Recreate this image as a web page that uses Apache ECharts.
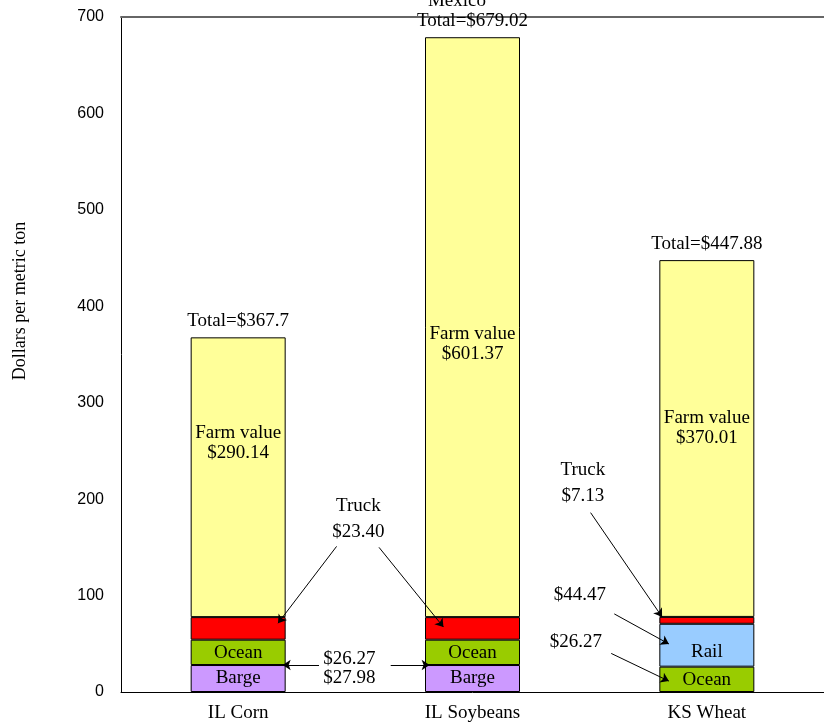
<!DOCTYPE html>
<html>
<head>
<meta charset="utf-8">
<script src="https://cdn.jsdelivr.net/npm/echarts@6/dist/echarts.min.js"></script>
<style>
  html, body { margin: 0; padding: 0; background: #fff; }
  #main { width: 824px; height: 723px; }
</style>
</head>
<body>
<div id="main"></div>
<script>
// 数据
const categories = ['IL Corn', 'IL Soybeans', 'KS Wheat'];
const barge = [27.98, 27.98, null];
const ocean = [26.27, 26.27, 26.27];
const rail = [null, null, 44.47];
const truck = [23.40, 23.40, 7.13];
const farmValue = [290.14, 601.37, 370.01];
const totalText = ['Total=$367.7', 'Total=$679.02', 'Total=$447.88'];

// 注释文字 (x: category units, y: dollars)
const notes = [
  { text: 'Truck', x: 0.513, y: 193 },
  { text: '$23.40', x: 0.513, y: 166 },
  { text: '$26.27', x: 0.475, y: 34 },
  { text: '$27.98', x: 0.475, y: 15 },
  { text: 'Truck', x: 1.471, y: 230 },
  { text: '$7.13', x: 1.471, y: 203 },
  { text: '$44.47', x: 1.458, y: 101 },
  { text: '$26.27', x: 1.441, y: 52 }
];
// 箭头: 指向某段 (seg = index in stack)
const arrows = [
  { cat: 0, seg: 3, frac: 0.73, dx: 0.17, fromX: 0.42, fromY: 151 },
  { cat: 1, seg: 3, frac: 0.56, dx: -0.124, fromX: 0.601, fromY: 150 },
  { cat: 0, seg: 0, frac: 1, dx: 0.19, fromX: 0.345, fromY: null },
  { cat: 1, seg: 0, frac: 1, dx: -0.183, fromX: 0.651, fromY: null },
  { cat: 2, seg: 3, frac: 1, dx: -0.191, fromX: 1.504, fromY: 186 },
  { cat: 2, seg: 2, frac: 0.53, dx: -0.162, fromX: 1.605, fromY: 81 },
  { cat: 2, seg: 1, frac: 0.43, dx: -0.162, fromX: 1.592, fromY: 40 }
];

const stack = [barge, ocean, rail, truck, farmValue];
const farmOffsets = [[0, -34], [0, 17], [0, -10]];
const serif = "'Liberation Serif', 'Times New Roman', serif";

function baseOf(cat, seg) {
  let s = 0;
  for (let i = 0; i < seg; i++) s += stack[i][cat] || 0;
  return s;
}

const totals = categories.map((c, i) => baseOf(i, stack.length));

const arrowLines = arrows.map(a => {
  const tipY = baseOf(a.cat, a.seg) + stack[a.seg][a.cat] * a.frac;
  return [
    { coord: [a.fromX, a.fromY == null ? tipY : a.fromY] },
    { coord: [a.cat + a.dx, tipY] }
  ];
});

const myChart = echarts.init(document.getElementById('main'));

function segSeries(name, data, color, labelOffset) {
  return {
    name: name,
    type: 'bar',
    stack: 'total',
    barWidth: 95,
    data: data,
    itemStyle: { color: color, borderColor: '#000', borderWidth: 1 },
    label: {
      show: name !== 'Truck',
      position: 'inside',
      formatter: name,
      color: '#000',
      fontFamily: serif,
      fontSize: 19,
      offset: labelOffset || [0, 0]
    }
  };
}

myChart.setOption({
  animation: false,
  grid: { left: 121, top: 17, right: -11, bottom: 30 },
  xAxis: [{
    type: 'category',
    data: categories,
    axisLine: { lineStyle: { color: '#000', width: 1 } },
    axisTick: { show: false },
    axisLabel: { color: '#000', fontFamily: serif, fontSize: 19, margin: 12 }
  }, {
    type: 'value',
    min: -0.5,
    max: 2.5,
    position: 'top',
    axisLine: { show: true, onZero: false, lineStyle: { color: '#666', width: 2 } },
    axisTick: { show: false },
    axisLabel: { show: false },
    splitLine: { show: false }
  }],
  yAxis: {
    type: 'value',
    min: 0,
    max: 700,
    interval: 100,
    axisLine: { show: true, onZero: false, lineStyle: { color: '#000', width: 1 } },
    axisTick: { show: false },
    splitLine: { show: false },
    axisLabel: { color: '#000', fontFamily: "'Liberation Sans', Arial, sans-serif", fontSize: 16, margin: 17 }
  },
  graphic: [{
    type: 'text',
    x: 20, y: 301,
    rotation: Math.PI / 2,
    style: { text: 'Dollars per metric ton', fontFamily: serif, fontSize: 18, fill: '#000', align: 'center', verticalAlign: 'middle' }
  }, {
    type: 'text',
    x: 457, y: 11,
    style: { text: 'Mexico', fontFamily: serif, fontSize: 19, fill: '#000', align: 'center', verticalAlign: 'bottom' }
  }],
  series: [
    segSeries('Barge', barge, '#CC99FF'),
    segSeries('Ocean', ocean, '#99CC00', [0, 1]),
    segSeries('Rail', rail, '#99CCFF', [0, 7]),
    segSeries('Truck', truck, '#FF0000'),
    {
      name: 'Farm value',
      type: 'bar',
      stack: 'total',
      barWidth: 95,
      data: farmValue.map((v, i) => ({ value: v, label: { offset: farmOffsets[i] } })),
      itemStyle: { color: '#FFFF99', borderColor: '#000', borderWidth: 1 },
      label: {
        show: true,
        position: 'inside',
        color: '#000',
        fontFamily: serif,
        fontSize: 19,
        lineHeight: 20,
        formatter: p => 'Farm value\n$' + p.value.toFixed(2)
      }
    },
    {
      name: 'totals',
      type: 'scatter',
      xAxisIndex: 1,
      symbolSize: 1,
      itemStyle: { color: 'transparent', opacity: 1 },
      data: totals.map((t, i) => ({ value: [i, t], name: totalText[i] })),
      label: { show: true, position: 'top', distance: 6, formatter: '{b}', color: '#000', opacity: 1, fontFamily: serif, fontSize: 19 },
      silent: true
    },
    {
      name: 'notes',
      type: 'scatter',
      xAxisIndex: 1,
      symbolSize: 1,
      itemStyle: { color: 'transparent', opacity: 1 },
      data: notes.map(n => ({ value: [n.x, n.y], name: n.text })),
      label: { show: true, position: 'inside', formatter: '{b}', color: '#000', opacity: 1, fontFamily: serif, fontSize: 19 },
      silent: true,
      markLine: {
        silent: true,
        symbol: ['none', 'arrow'],
        symbolSize: 8,
        label: { show: false },
        lineStyle: { color: '#000', width: 1, type: 'solid', opacity: 1 },
        data: arrowLines
      }
    }
  ]
});
</script>
</body>
</html>
